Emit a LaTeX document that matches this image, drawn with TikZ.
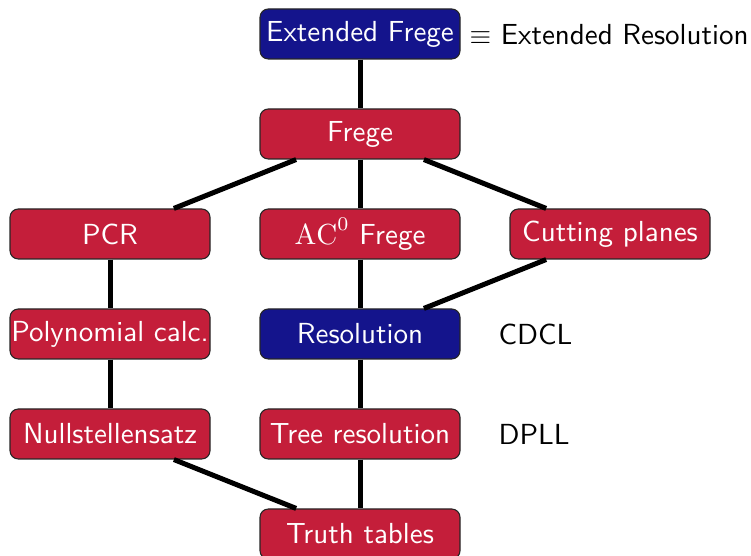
\documentclass[tikz,border=0pt]{standalone}
\usepackage{fontspec}
\definecolor{boxred}{RGB}{196,30,58}
\definecolor{boxblue}{RGB}{20,20,140}
\begin{document}
\begin{tikzpicture}[x=0.36pt,y=-0.36pt,
  font=\sffamily\fontsize{10.45}{12.5}\selectfont,
  sys/.style={draw=black!85,line width=0.4pt,rounded corners=3pt,text=white,
    minimum width=72pt,minimum height=18pt,inner xsep=0pt,inner ysep=0pt},
  redbox/.style={sys,fill=boxred},
  bluebox/.style={sys,fill=boxblue},
  link/.style={line width=1.8pt},
  side/.style={anchor=west,text=black,inner sep=0pt}]
\useasboundingbox (0,0) rectangle (751,556);
\clip (0,0) rectangle (751,556);
\node[bluebox] (ef) at (360,34) {Extended Frege};
\node[redbox] (fr) at (360,134) {Frege};
\node[redbox] (pcr) at (110,234) {PCR};
\node[redbox] (ac) at (360,234) {$\mathrm{AC}^0$ Frege};
\node[redbox] (cp) at (610,234) {Cutting planes};
\node[redbox] (pc) at (110,334) {Polynomial calc.};
\node[bluebox] (res) at (360,334) {Resolution};
\node[redbox] (ns) at (110,434) {Nullstellensatz};
\node[redbox] (tr) at (360,434) {Tree resolution};
\node[redbox] (tt) at (360,534) {Truth tables};
\node[side] (er) at (469,35) {$\equiv$ Extended Resolution};
\node[side] (cdcl) at (498,334) {CDCL};
\node[side] (dpll) at (498,434) {DPLL};
\draw[link] (ef) -- (fr);
\draw[link] (fr) -- (pcr);
\draw[link] (fr) -- (ac);
\draw[link] (fr) -- (cp);
\draw[link] (pcr) -- (pc);
\draw[link] (ac) -- (res);
\draw[link] (cp) -- (res);
\draw[link] (pc) -- (ns);
\draw[link] (res) -- (tr);
\draw[link] (ns) -- (tt);
\draw[link] (tr) -- (tt);
\end{tikzpicture}
\end{document}
